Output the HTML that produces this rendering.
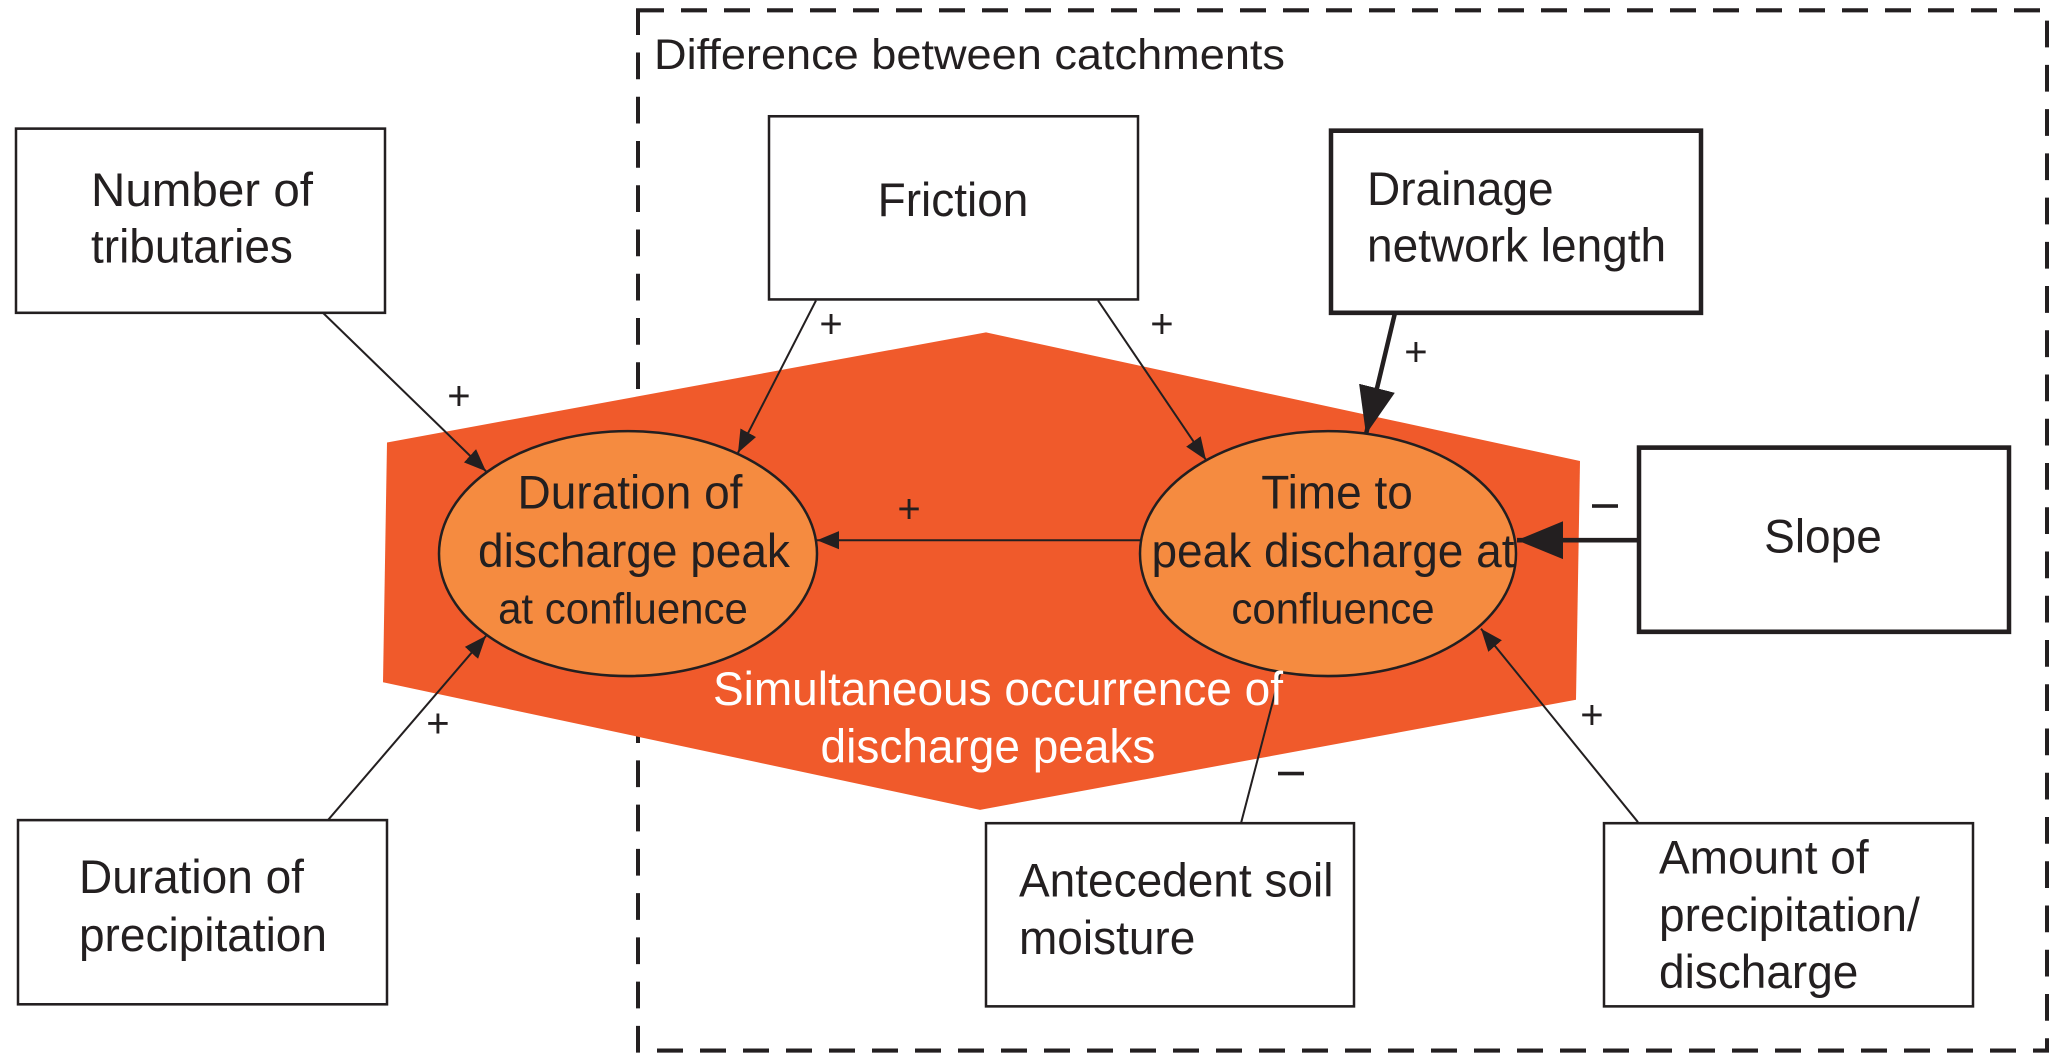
<!DOCTYPE html>
<html><head><meta charset="utf-8"><style>
html,body{margin:0;padding:0;background:#fff;}
svg{display:block;}
text{font-family:"Liberation Sans",Arial,sans-serif;fill:#231f20;}
</style></head><body>
<svg width="2067" height="1063" viewBox="0 0 2067 1063" xmlns="http://www.w3.org/2000/svg">
<defs>
<marker id="a3" viewBox="0 0 10 10" refX="10" refY="5" markerWidth="22" markerHeight="22" markerUnits="userSpaceOnUse" orient="auto"><path d="M0,1 L10,5 L0,9 z" fill="#231f20"/></marker>
<marker id="a2" viewBox="0 0 10 10" refX="10" refY="5" markerWidth="46" markerHeight="46" markerUnits="userSpaceOnUse" orient="auto"><path d="M0,1 L10,5 L0,9 z" fill="#231f20"/></marker>
</defs>
<g transform="scale(1,1.029)">
<rect x="638" y="10" width="1409" height="1011" fill="none" stroke="#231f20" stroke-width="4" stroke-dasharray="26,17"/>
<text x="654" y="67" font-size="41" textLength="631" lengthAdjust="spacingAndGlyphs">Difference between catchments</text>
<polygon points="387,430 986,323 1580,448 1576,680 980,787 383,663" fill="#f05a2b"/>
<ellipse cx="628" cy="538" rx="189" ry="119" fill="#f58b40" stroke="#231f20" stroke-width="2.5"/>
<ellipse cx="1328" cy="538" rx="188" ry="119" fill="#f58b40" stroke="#231f20" stroke-width="2.5"/>
<g fill="#fff" stroke="#231f20" stroke-width="2.5">
<rect x="16" y="125" width="369" height="179"/>
<rect x="18" y="797" width="369" height="179"/>
<rect x="769" y="113" width="369" height="178"/>
<rect x="986" y="800" width="368" height="178"/>
<rect x="1604" y="800" width="369" height="178"/>
</g>
<g fill="#fff" stroke="#231f20" stroke-width="4.5">
<rect x="1331" y="127" width="370" height="177"/>
<rect x="1639" y="435" width="370" height="179"/>
</g>
<g stroke="#231f20" stroke-width="2" fill="none">
<line x1="323" y1="304" x2="486" y2="458" marker-end="url(#a3)"/>
<line x1="328" y1="797" x2="486" y2="618" marker-end="url(#a3)"/>
<line x1="816" y1="292" x2="738" y2="440" marker-end="url(#a3)"/>
<line x1="1098" y1="292" x2="1206" y2="447" marker-end="url(#a3)"/>
<line x1="1140" y1="525" x2="817" y2="525" marker-end="url(#a3)"/>
<line x1="1638" y1="799" x2="1481" y2="611" marker-end="url(#a3)"/>
<line x1="1241" y1="800" x2="1280" y2="655"/>
<line x1="1395" y1="304" x2="1366" y2="422" stroke-width="4.5" marker-end="url(#a2)"/>
<line x1="1638" y1="525" x2="1517" y2="525" stroke-width="4.5" marker-end="url(#a2)"/>
</g>
<g font-size="40" text-anchor="middle">
<text x="459" y="398">+</text><text x="831" y="328">+</text><text x="909" y="508">+</text>
<text x="438" y="716">+</text><text x="1162" y="328">+</text><text x="1416" y="355">+</text>
<text x="1592" y="708">+</text>
</g>
<rect x="1592" y="490" width="26" height="3.5" fill="#231f20"/>
<rect x="1278" y="750" width="26" height="3.5" fill="#231f20"/>
<g font-size="46">
<text x="91" y="200" textLength="222" lengthAdjust="spacingAndGlyphs">Number of</text>
<text x="91" y="255">tributaries</text>
<text x="79" y="868">Duration of</text>
<text x="79" y="924">precipitation</text>
<text x="953" y="210" text-anchor="middle">Friction</text>
<text x="1367" y="199">Drainage</text>
<text x="1367" y="254">network length</text>
<text x="1823" y="537" text-anchor="middle">Slope</text>
<text x="1019" y="871">Antecedent soil</text>
<text x="1019" y="927">moisture</text>
<text x="1659" y="849">Amount of</text>
<text x="1659" y="905">precipitation/</text>
<text x="1659" y="960">discharge</text>
<text x="630" y="494" text-anchor="middle">Duration of</text>
<text x="634" y="551" text-anchor="middle">discharge peak</text>
<text x="623" y="606" text-anchor="middle" font-size="42">at confluence</text>
<text x="1337" y="494" text-anchor="middle">Time to</text>
<text x="1333" y="551" text-anchor="middle">peak discharge at</text>
<text x="1333" y="606" text-anchor="middle" font-size="42">confluence</text>
<text x="998" y="685" text-anchor="middle" style="fill:#fff">Simultaneous occurrence of</text>
<text x="988" y="741" text-anchor="middle" style="fill:#fff">discharge peaks</text>
</g>
</g>
</svg>
</body></html>
